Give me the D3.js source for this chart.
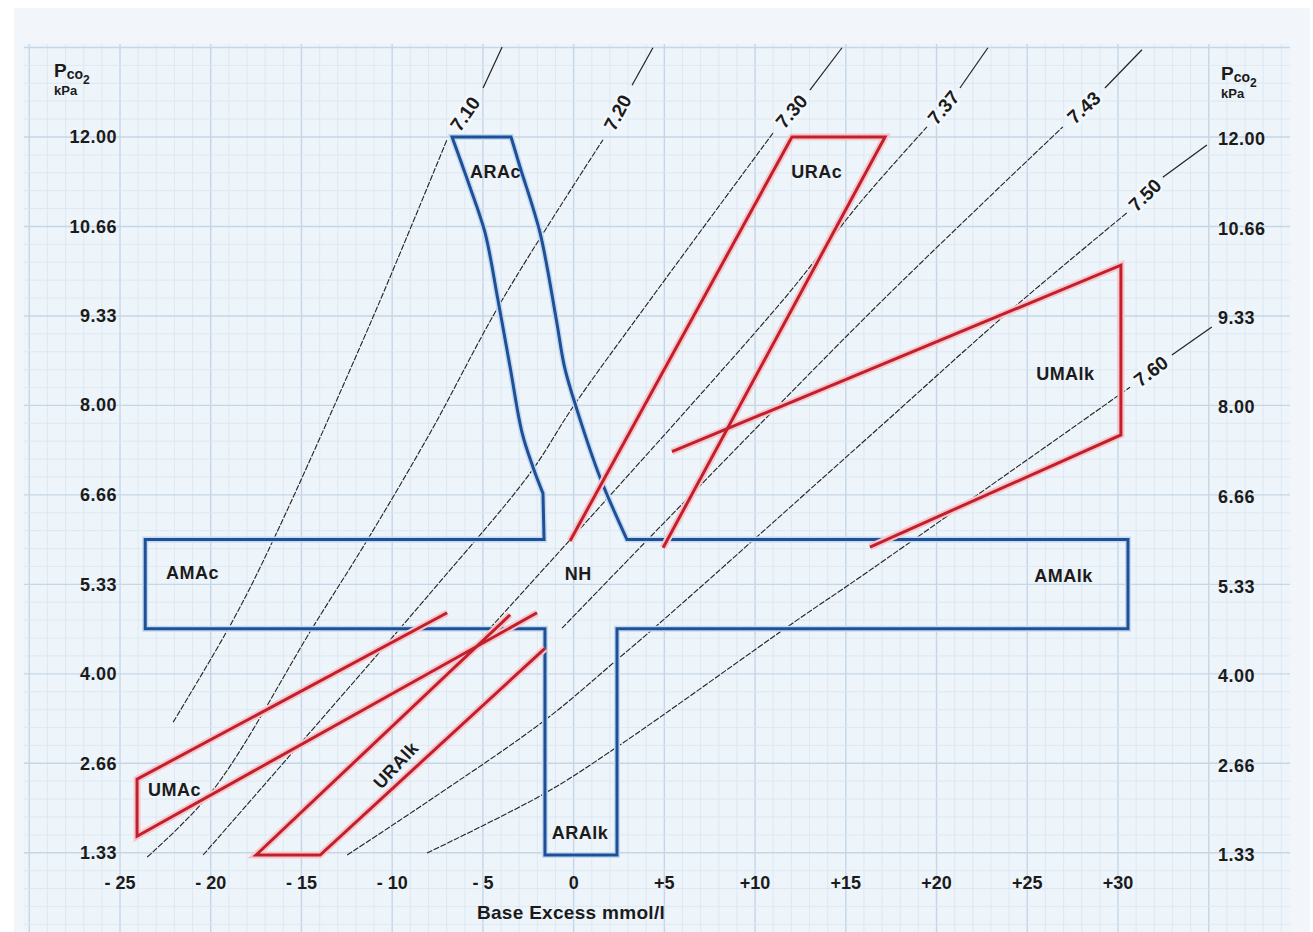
<!DOCTYPE html>
<html>
<head>
<meta charset="utf-8">
<script src="https://cdn.jsdelivr.net/npm/d3@7"></script>
<style>
	body { margin: 0; background: #ffffff; }
	svg text { font-family: "Liberation Sans", Arial, sans-serif; font-weight: bold; fill: #1b1b1b; }
</style>
</head>
<body>
<div id="vis"></div>
<script>
// ---- axis ticks ----
var xTicks = [-25, -20, -15, -10, -5, 0, 5, 10, 15, 20, 25, 30];
var xTickLabels = ["- 25", "- 20", "- 15", "- 10", "- 5", "0", "+5", "+10", "+15", "+20", "+25", "+30"];
var yTicks = [1.33, 2.66, 4.00, 5.33, 6.66, 8.00, 9.33, 10.66, 12.00];
var yTickLabels = ["1.33", "2.66", "4.00", "5.33", "6.66", "8.00", "9.33", "10.66", "12.00"];

// ---- pH isopleths: [base excess, PCO2 kPa], main part then the short tail above the label ----
var phLabels = ["7.10", "7.20", "7.30", "7.37", "7.43", "7.50", "7.60"];
var ph710 = [[-22.07, 3.28], [-18.77, 4.80], [-16.56, 5.99], [-11.05, 9.32], [-6.98, 11.96]];
var ph720 = [[-23.50, 1.27], [-19.87, 2.27], [-14.36, 4.70], [-11.38, 5.99], [-7.91, 7.59], [-3.94, 9.57], [1.62, 11.96]];
var ph730 = [[-20.42, 1.30], [-7.91, 5.20], [-2.40, 6.99], [-0.03, 7.98], [4.21, 9.57], [10.99, 12.06]];
var ph737 = [[-4.61, 4.68], [11.54, 9.57], [15.78, 11.02], [19.47, 12.15]];
var ph743 = [[-0.64, 4.68], [16.33, 9.38], [26.96, 12.15]];
var ph750 = [[-12.48, 1.30], [-7.91, 2.12], [-1.58, 3.31], [2.39, 4.21], [4.93, 4.80], [16.88, 7.68], [23.66, 9.32], [30.49, 10.87]];
var ph760 = [[-8.08, 1.33], [-1.58, 2.22], [2.39, 2.91], [12.31, 4.80], [15.78, 5.44], [30.66, 8.27]];
var phTail710 = [[-4.99, 12.73], [-3.94, 13.34]];
var phTail720 = [[3.22, 12.77], [4.37, 13.33]];
var phTail730 = [[13.02, 12.70], [14.79, 13.33]];
var phTail737 = [[21.29, 12.73], [22.83, 13.33]];
var phTail743 = [[29.28, 12.73], [31.32, 13.30]];
var phTail750 = [[32.47, 11.40], [34.90, 11.88]];
var phTail760 = [[32.97, 8.75], [35.17, 9.17]];
var phLines = [ph710, ph720, ph730, ph737, ph743, ph750, ph760];
var phTails = [phTail710, phTail720, phTail730, phTail737, phTail743, phTail750, phTail760];

// ---- acute zones (blue): ARAc right edge, the cross-shaped band, ARAc left edge ----
var araRight = [[-3.45, 12.00], [-2.95, 11.55], [-1.85, 10.57], [-0.95, 9.27], [-0.50, 8.57],
	[0.19, 7.93], [1.45, 6.93], [2.94, 6.00]];
var acuteBand = [[30.55, 6.00], [30.55, 4.67], [2.39, 4.67], [2.39, 1.30], [-1.58, 1.30], [-1.58, 4.67],
	[-23.61, 4.67], [-23.61, 6.00], [-1.63, 6.00], [-1.69, 6.69]];
var araLeft = [[-1.69, 6.69], [-2.24, 7.08], [-2.84, 7.59], [-3.50, 8.57], [-4.17, 9.57], [-4.88, 10.57],
	[-5.71, 11.25], [-6.70, 12.00]];

// ---- chronic / compensated zones (red, open outlines) ----
var uracZone = [[-0.20, 5.98], [12.03, 12.00], [17.16, 12.00], [4.93, 5.88]];
var umalkZone = [[5.42, 7.31], [30.16, 10.09], [30.16, 7.56], [16.33, 5.89]];
var umacZone = [[-6.97, 4.91], [-24.06, 2.43], [-24.06, 1.58], [-2.02, 4.91]];
var uralkZone = [[-3.50, 4.88], [-17.50, 1.30], [-13.97, 1.30], [-1.58, 4.38]];
var redZones = [uracZone, umalkZone, umacZone, uralkZone];

// ---- zone names ----
var zoneNames = ["ARAc", "URAc", "UMAlk", "AMAc", "NH", "AMAlk", "UMAc", "URAlk", "ARAlk"];
var zoneLabelX = [-4.3, 13.4, 27.1, -21.0, 0.25, 27.0, -22.0, -9.8, 0.35];
var zoneLabelY = [11.48, 11.48, 8.47, 5.50, 5.49, 5.46, 2.27, 2.64, 1.63];
var zoneLabelAngle = [0, 0, 0, 0, 0, 0, 0, -47, 0];

// Layout Settings
var W = 1313, H = 932;

var svg = d3.select("#vis")
	.append("svg")
	.attr("width", W)
	.attr("height", H);

var x = d3.scaleLinear().domain([-25, 30]).range([120, 1118]);
var y = d3.scaleLinear().domain([1.33, 12]).range([853, 137]);

// paper + grid area
svg.append("rect").attr("x", 14).attr("y", 8).attr("width", W - 17).attr("height", H - 8).attr("fill", "#f2f6fa");
svg.append("rect").attr("x", 24).attr("y", 44).attr("width", 1266).attr("height", H - 44).attr("fill", "#edf4fa");

svg.append("clipPath").attr("id", "gridclip")
	.append("rect").attr("x", 24).attr("y", 44).attr("width", 1266).attr("height", H - 44);

var grid = svg.append("g").attr("class", "grid").attr("clip-path", "url(#gridclip)");

// minor grid: 1 mmol/l and 2 mmHg, every fifth one heavier
grid.selectAll(".vgrid")
	.data(d3.range(-31, 42, 1))
	.enter().append("line")
	.attr("x1", function(d) {return x(d);}).attr("x2", function(d) {return x(d);})
	.attr("y1", 44).attr("y2", H)
	.attr("stroke", function(d) {return d % 5 == 0 ? "#c6d6e6" : "#dbe6f0";})
	.attr("stroke-width", function(d) {return d % 5 == 0 ? 1.4 : 0.8;});

grid.selectAll(".hgrid")
	.data(d3.range(-6, 56, 1))
	.enter().append("line")
	.attr("y1", function(d) {return y(d * 4 / 15);}).attr("y2", function(d) {return y(d * 4 / 15);})
	.attr("x1", 24).attr("x2", 1290)
	.attr("stroke", function(d) {return d % 5 == 0 ? "#c6d6e6" : "#dbe6f0";})
	.attr("stroke-width", function(d) {return d % 5 == 0 ? 1.4 : 0.8;});

var line = d3.line()
	.x(function(d) {return x(d[0]);})
	.y(function(d) {return y(d[1]);});

var smooth = d3.line()
	.x(function(d) {return x(d[0]);})
	.y(function(d) {return y(d[1]);})
	.curve(d3.curveCatmullRom);

// pH lines
var iso = svg.append("g").attr("class", "isopleths");

iso.selectAll(".ph")
	.data(phLines)
	.enter().append("path")
	.attr("d", smooth)
	.attr("fill", "none")
	.attr("stroke", "#222")
	.attr("stroke-width", 1.1)
	.attr("stroke-dasharray", "6,1.5");

iso.selectAll(".phtail")
	.data(phTails)
	.enter().append("path")
	.attr("d", line)
	.attr("fill", "none")
	.attr("stroke", "#222")
	.attr("stroke-width", 1.2);

// zones: halo first, then the outline
var zones = svg.append("g").attr("class", "zones");

// ARAc edges are curved, the band is straight
var acutePath = smooth(araRight)
	+ line(acuteBand).replace(/^M/, "L")
	+ smooth(araLeft).replace(/^M/, "L") + "Z";

zones.append("path")
	.attr("d", acutePath)
	.attr("fill", "none")
	.attr("stroke", "#c3daf1")
	.attr("stroke-width", 6);

zones.append("path")
	.attr("d", acutePath)
	.attr("fill", "none")
	.attr("stroke", "#1f4f96")
	.attr("stroke-width", 3);

zones.selectAll(".redhalo")
	.data(redZones)
	.enter().append("path")
	.attr("d", line)
	.attr("fill", "none")
	.attr("stroke", "#f5c7cc")
	.attr("stroke-width", 7);

zones.selectAll(".red")
	.data(redZones)
	.enter().append("path")
	.attr("d", line)
	.attr("fill", "none")
	.attr("stroke", "#c21f2c")
	.attr("stroke-width", 3);

// pH labels sit in the gap between the line and its tail
phLabels.forEach(function(lab, i) {
	var a = phLines[i][phLines[i].length - 1], b = phTails[i][0];
	var ax = x(a[0]), ay = y(a[1]), bx = x(b[0]), by = y(b[1]);
	var ang = Math.atan2(by - ay, bx - ax) * 180 / Math.PI;
	svg.append("text")
		.attr("transform", "translate(" + ((ax + bx) / 2) + "," + ((ay + by) / 2) + ") rotate(" + ang + ")")
		.attr("text-anchor", "middle")
		.attr("dy", "0.35em")
		.attr("font-size", 19)
		.attr("stroke", "#f4f8fc")
		.attr("stroke-width", 5)
		.attr("paint-order", "stroke")
		.text(lab);
});

// zone names
svg.selectAll(".zonelabel")
	.data(zoneNames)
	.enter().append("text")
	.attr("transform", function(d, i) {
		return "translate(" + x(zoneLabelX[i]) + "," + y(zoneLabelY[i]) + ") rotate(" + zoneLabelAngle[i] + ")";
	})
	.attr("text-anchor", "middle")
	.attr("dy", "0.35em")
	.attr("font-size", 18)
	.attr("letter-spacing", 0.5)
	.text(function(d) {return d;});

// x axis labels
svg.selectAll(".xtick")
	.data(xTicks)
	.enter().append("text")
	.attr("x", function(d) {return x(d);})
	.attr("y", 889)
	.attr("text-anchor", "middle")
	.attr("font-size", 18)
	.text(function(d, i) {return xTickLabels[i];});

svg.append("text")
	.attr("x", 571)
	.attr("y", 919)
	.attr("text-anchor", "middle")
	.attr("font-size", 19)
	.attr("letter-spacing", 0.3)
	.text("Base Excess mmol/l");

// y axis labels, both sides
svg.selectAll(".ytickL")
	.data(yTicks)
	.enter().append("text")
	.attr("x", 117)
	.attr("y", function(d) {return y(d) + 6;})
	.attr("text-anchor", "end")
	.attr("font-size", 18)
	.attr("letter-spacing", 0.5)
	.text(function(d, i) {return yTickLabels[i];});

svg.selectAll(".ytickR")
	.data(yTicks)
	.enter().append("text")
	.attr("x", 1218)
	.attr("y", function(d) {return y(d) + 8;})
	.attr("text-anchor", "start")
	.attr("font-size", 18)
	.attr("letter-spacing", 0.5)
	.text(function(d, i) {return yTickLabels[i];});

// PCO2 / kPa titles
function pco2Title(px, py) {
	var t = svg.append("text").attr("x", px).attr("y", py);
	t.append("tspan").attr("font-size", 19).text("P");
	t.append("tspan").attr("font-size", 14).attr("dy", 2).text("co");
	t.append("tspan").attr("font-size", 12).attr("dy", 5).text("2");
	svg.append("text").attr("x", px).attr("y", py + 18).attr("font-size", 13).text("kPa");
}
pco2Title(54, 77);
pco2Title(1221, 80);

</script>
</body>
</html>
